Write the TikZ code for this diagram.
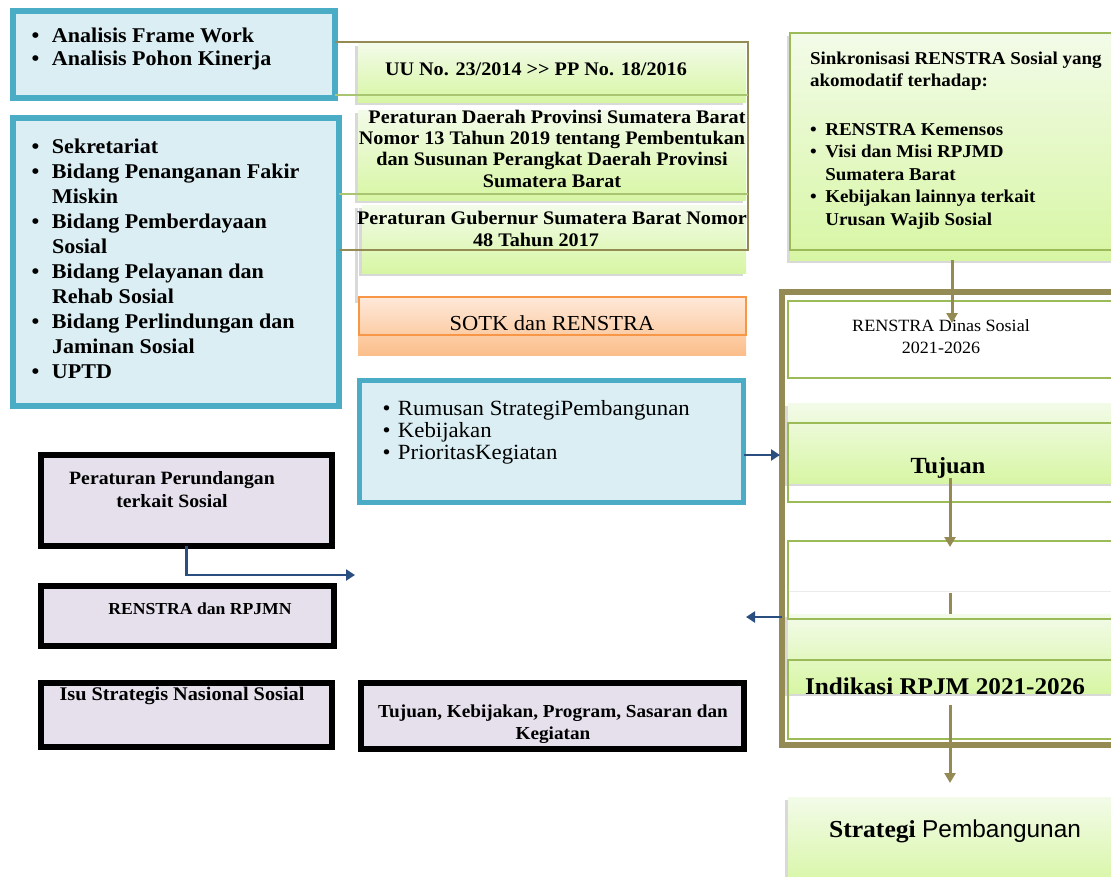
\documentclass[tikz,border=0pt]{standalone}
\usepackage{fontspec}
\setmainfont{Liberation Serif}[FakeStretch=1.05]
\newfontfamily\arialfont{Liberation Sans}
\usepackage{xcolor}
\usetikzlibrary{shadows,arrows.meta}

\definecolor{boxblue}{HTML}{4BACC6}
\definecolor{paleblue}{HTML}{DAEEF3}
\definecolor{oliveline}{HTML}{948A54}
\definecolor{greenline}{HTML}{9BBB59}
\definecolor{greentop}{HTML}{F3FBE9}
\definecolor{greenbot}{HTML}{D7F6A4}
\definecolor{orangeline}{HTML}{F79646}
\definecolor{orangetop}{HTML}{FEE9DA}
\definecolor{orangebot}{HTML}{FBBE8A}
\definecolor{lilac}{HTML}{E5E0EC}
\definecolor{arrowblue}{HTML}{2A4E80}

\newcommand{\bul}[1]{\makebox[#1][l]{\textbullet}}
\newcommand{\fs}[2]{\fontsize{#1}{#2}\selectfont}

\begin{document}
\begin{tikzpicture}[x=1pt, y=-1pt,
  box/.style={rectangle, anchor=north west, inner sep=0pt, outer sep=0pt},
  bluebox/.style={box, draw=boxblue, line width=6pt, fill=paleblue},
  lilabox/.style={box, draw=black, line width=6pt, fill=lilac},
  greenfill/.style={box, top color=greentop, bottom color=greenbot, drop shadow={shadow xshift=-3pt, shadow yshift=-3pt, opacity=.3}},
  greenframe/.style={box, draw=greenline, line width=1.6pt},
  txt/.style={inner sep=0pt, outer sep=0pt, align=left, anchor=north west},
  word/.style={inner sep=0pt, outer sep=0pt},
  conn/.style={draw=arrowblue, line width=2.4pt, -{Triangle[length=9pt, width=11pt]}},
  stem/.style={draw=oliveline, line width=3pt},
  olivearrow/.style={stem, -{Triangle[length=10pt, width=11pt]}}
]
\useasboundingbox (0,0) rectangle (1111,876);
\clip (0,0) rectangle (1111,876);

\node[bluebox, minimum width=322pt, minimum height=87pt] (ana) at (13,11) {};
\node[txt, font=\bfseries\fs{21}{23}] (anatext) at (31.5,27.5) {\bul{20.5pt}Analisis Frame Work\\
\bul{20.5pt}Analisis Pohon Kinerja};

\node[bluebox, minimum width=326pt, minimum height=288pt] (bid) at (13,118) {};
\node[txt, font=\bfseries\fs{21}{25}] (bidtext) at (31.5,138.5) {\bul{20.5pt}Sekretariat\\
\bul{20.5pt}Bidang Penanganan Fakir\\
\hspace*{20.5pt}Miskin\\
\bul{20.5pt}Bidang Pemberdayaan\\
\hspace*{20.5pt}Sosial\\
\bul{20.5pt}Bidang Pelayanan dan\\
\hspace*{20.5pt}Rehab Sosial\\
\bul{20.5pt}Bidang Perlindungan dan\\
\hspace*{20.5pt}Jaminan Sosial\\
\bul{20.5pt}UPTD};

\node[greenfill, minimum width=388pt, minimum height=59pt] (uu) at (358,43) {};
\node[greenfill, minimum width=388pt, minimum height=90pt] (perda) at (358,110) {};
\node[box, fill=white, minimum width=388pt, minimum height=95pt, drop shadow={shadow xshift=-3pt, shadow yshift=-3pt, opacity=.3}] (blank) at (358,205) {};
\node[greenfill, minimum width=384pt, minimum height=68pt] (pergub) at (362,205) {};
\node[box, top color=orangetop, bottom color=orangebot, minimum width=388pt, minimum height=58pt] (sotkfill) at (358,297) {};
\node[box, draw=orangeline, line width=1.6pt, minimum width=387pt, minimum height=38pt] (sotk) at (359,297) {};

\node[word, anchor=base west, font=\bfseries\fs{19.2}{22}] (uutext) at (385,75) {UU No. 23/2014 >\kern0pt> PP No. 18/2016};
\node[txt, align=center, anchor=north, font=\bfseries\fs{19.2}{21.3}] (perdatext) at (552,110) {\hspace*{10pt}Peraturan Daerah Provinsi Sumatera Barat\\
Nomor 13 Tahun 2019 tentang Pembentukan\\
dan Susunan Perangkat Daerah Provinsi\\
Sumatera Barat};
\node[txt, align=center, anchor=north, font=\bfseries\fs{19.2}{22}] (pergubtext) at (552,211) {Peraturan Gubernur Sumatera Barat Nomor\\
48 Tahun 2017\hspace*{32pt}};
\node[word, anchor=base, font=\fs{21.4}{24}] (sotktext) at (552,330) {SOTK dan RENSTRA};

\coordinate (ot) at (748,42);
\coordinate (ob) at (748,250);
\coordinate (gt) at (748,95);
\coordinate (gb) at (748,194);
\draw[draw=oliveline, line width=1.8pt] (ana.east |- ot) -- (ot) -- (ob) -- (bid.east |- ob);
\draw[draw=greenline!85, line width=1.8pt] (ana.east |- gt) -- (gt);
\draw[draw=greenline!85, line width=1.8pt] (bid.east |- gb) -- (gb);

\node[bluebox, line width=5pt, minimum width=384pt, minimum height=122pt] (rum) at (359.5,380.5) {};
\node[txt, font=\fs{21.7}{22}] (rumtext) at (382.5,400) {\bul{15.5pt}Rumusan StrategiPembangunan\\
\bul{15.5pt}Kebijakan\\
\bul{15.5pt}PrioritasKegiatan};

\node[lilabox, minimum width=291pt, minimum height=91pt] (per) at (41,455) {};
\node[txt, align=center, anchor=north, font=\bfseries\fs{18.8}{23}] (pertext) at (172,471) {Peraturan Perundangan\\
terkait Sosial};
\node[lilabox, minimum width=293pt, minimum height=60pt] (rpj) at (41,586) {};
\node[word, anchor=base, font=\bfseries\fs{16.8}{22}] (rpjtext) at (200,614) {RENSTRA dan RPJMN};
\node[lilabox, minimum width=291pt, minimum height=64pt] (isu) at (41,683) {};
\node[word, anchor=base, font=\bfseries\fs{19.3}{22}] (isutext) at (182,700) {Isu Strategis Nasional Sosial};
\node[lilabox, minimum width=383pt, minimum height=66pt] (tkp) at (361,683) {};
\node[txt, align=center, anchor=north, font=\bfseries\fs{18.3}{22}] (tkptext) at (553,705) {Tujuan, Kebijakan, Program, Sasaran dan\\
Kegiatan};

\node[greenfill, minimum width=330pt, minimum height=227pt] (sinkfill) at (790,33) {};
\node[greenframe, line width=2pt, minimum width=330pt, minimum height=217pt] (sink) at (790,33) {};
\node[txt, font=\bfseries\fs{18.1}{22.5}] (sinktext) at (810,51.5) {Sinkronisasi RENSTRA Sosial yang\\
akomodatif terhadap:\\[26pt]
\bul{15.3pt}RENSTRA Kemensos\\
\bul{15.3pt}Visi dan Misi RPJMD\\
\hspace*{15.3pt}Sumatera Barat\\
\bul{15.3pt}Kebijakan lainnya terkait\\
\hspace*{15.3pt}Urusan Wajib Sosial};

\node[box, draw=oliveline, line width=6pt, minimum width=340pt, minimum height=453pt] (frame) at (782,292) {};
\node[greenframe, fill=white, minimum width=332pt, minimum height=77pt] (rds) at (788,301) {};
\node[greenfill, minimum width=332pt, minimum height=80pt] (tujfill) at (788,403) {};
\node[greenframe, minimum width=332pt, minimum height=79pt] (tuj) at (788,423) {};
\node[box, fill=white, draw=black!8, minimum width=332pt, minimum height=102pt] (indbg) at (788,591) {};
\node[greenfill, minimum width=332pt, minimum height=79pt] (indfill) at (788,614) {};
\node[greenframe, minimum width=332pt, minimum height=78pt] (mid) at (788,541) {};
\node[greenframe, minimum width=332pt, minimum height=79pt] (ind) at (788,660) {};
\node[greenfill, minimum width=332pt, minimum height=90pt] (strfill) at (788,797) {};

\node[txt, align=center, anchor=north, font=\fs{17.2}{22}] (rdstext) at (941,320) {RENSTRA Dinas Sosial\\
2021-2026};
\node[word, anchor=base, font=\bfseries\fs{23.1}{26}] (tujtext) at (948,473) {Tujuan};
\node[word, anchor=base west, font=\bfseries\fs{24}{26}] (indtext) at (805,694) {Indikasi RPJM 2021-2026};
\node[word, anchor=base west, font=\fs{24.4}{26}] (strtext) at (829,837) {\textbf{Strategi} {\arialfont Pembangunan}};

\coordinate (stemx) at (950,0);
\coordinate (rdsin) at (952,323);
\coordinate (gapin) at (950,593);
\draw[olivearrow] (sinkfill.south -| rdsin) -- (rdsin);
\draw[olivearrow, shorten >=-6pt] (tujtext.south -| stemx) -- (mid.north -| stemx);
\draw[stem] (gapin) -- (gapin |- indfill.north);
\draw[olivearrow, shorten <=11pt, shorten >=14pt] (indtext.south -| stemx) -- (strfill.north -| stemx);

\coordinate (fin) at (780,455);
\coordinate (fout) at (746,617);
\coordinate (pout) at (355,575);
\draw[conn] (rum.east |- fin) -- (fin);
\draw[conn] (frame.west |- fout) -- (fout);
\draw[conn] (per.south) |- (pout);
\end{tikzpicture}
\end{document}
